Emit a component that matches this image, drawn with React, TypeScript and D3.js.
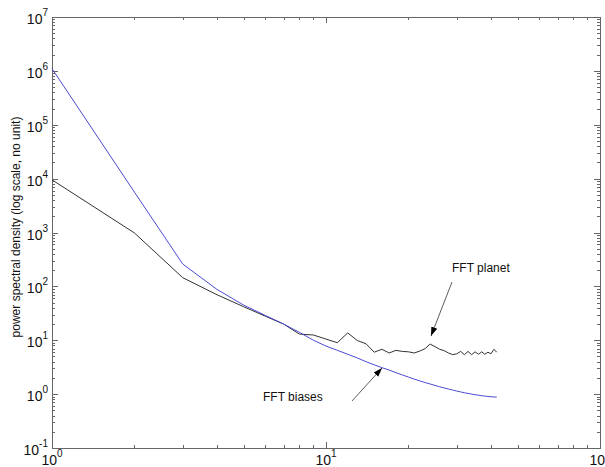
import React from "react";
import * as d3 from "d3";

const freq: number[] = Array.from({ length: 42 }, (_, i) => i + 1);
const biases: number[] = [
  1.1e6, 5600, 260, 88, 45, 29, 20, 14, 10, 7.8,
  6.5, 5.5, 4.7, 4.0, 3.5, 3.1, 2.8, 2.5, 2.27, 2.07,
  1.9, 1.76, 1.64, 1.54, 1.45, 1.37, 1.3, 1.24, 1.19, 1.14,
  1.1, 1.06, 1.03, 1.0, 0.975, 0.955, 0.935, 0.92, 0.905, 0.895, 0.885, 0.88,
];
const planet: number[] = [
  9500, 980, 145, 70, 42, 28, 20, 13, 12.5, 10.5,
  9.0, 13.7, 9.9, 8.6, 6.0, 6.8, 5.8, 6.5, 6.2, 6.1,
  5.8, 6.3, 7.0, 8.5, 7.6, 6.8, 6.4, 5.8, 5.4, 5.6,
  6.2, 5.4, 6.2, 5.4, 6.1, 5.5, 6.1, 5.5, 6.0, 5.6, 6.8, 6.0,
];
const xTickExp: number[] = [0, 1, 2];
const yTickExp: number[] = [-1, 0, 1, 2, 3, 4, 5, 6, 7];
const yLabel = "power spectral density (log scale, no unit)";
const planetLabel = "FFT planet";
const biasesLabel = "FFT biases";

const W = 605, H = 467;
const L = 52, R = 600, T = 17, B = 448;

export default function App() {
  const x = d3.scaleLog().domain([1, 100]).range([L, R]);
  const y = d3.scaleLog().domain([0.1, 1e7]).range([B, T]);
  const line = d3.line<number>().x((_, i) => x(freq[i])).y((d) => y(d));

  const xMinor: number[] = [];
  for (let e = 0; e < 2; e++) for (let m = 2; m <= 9; m++) xMinor.push(m * Math.pow(10, e));
  const yMinor: number[] = [];
  for (let e = -1; e < 7; e++) for (let m = 2; m <= 9; m++) yMinor.push(m * Math.pow(10, e));

  const axisColor = "#666";
  const font = "'Liberation Sans', Arial, sans-serif";

  return (
    <svg width={W} height={H} style={{ position: "absolute", left: 0, top: 0 }} fontFamily={font}>
      <defs>
        <marker id="ah" viewBox="0 0 10 10" refX="10" refY="5" markerWidth="9" markerHeight="9" orient="auto" markerUnits="userSpaceOnUse">
          <path d="M0,1.5 L10,5 L0,8.5 Z" fill="#000" />
        </marker>
      </defs>
      <rect x={0} y={0} width={W} height={H} fill="#fff" />
      {xMinor.map((v) => (
        <g key={"xm" + v} stroke={axisColor} strokeWidth={1}>
          <line x1={Math.round(x(v)) + 0.5} x2={Math.round(x(v)) + 0.5} y1={B} y2={B - 3} />
          <line x1={Math.round(x(v)) + 0.5} x2={Math.round(x(v)) + 0.5} y1={T} y2={T + 3} />
        </g>
      ))}
      {yMinor.map((v) => (
        <g key={"ym" + v} stroke={axisColor} strokeWidth={1}>
          <line x1={L} x2={L + 3} y1={Math.round(y(v)) + 0.5} y2={Math.round(y(v)) + 0.5} />
          <line x1={R} x2={R - 3} y1={Math.round(y(v)) + 0.5} y2={Math.round(y(v)) + 0.5} />
        </g>
      ))}
      {xTickExp.map((e) => {
        const px = Math.round(x(Math.pow(10, e))) + 0.5;
        return (
          <g key={"xt" + e} stroke={axisColor} strokeWidth={1}>
            <line x1={px} x2={px} y1={B} y2={B - 6} />
            <line x1={px} x2={px} y1={T} y2={T + 6} />
          </g>
        );
      })}
      {yTickExp.map((e) => {
        const py = Math.round(y(Math.pow(10, e))) + 0.5;
        return (
          <g key={"yt" + e} stroke={axisColor} strokeWidth={1}>
            <line x1={L} x2={L + 6} y1={py} y2={py} />
            <line x1={R} x2={R - 6} y1={py} y2={py} />
          </g>
        );
      })}
      <rect x={L + 0.5} y={T + 0.5} width={R - L} height={B - T} fill="none" stroke={axisColor} strokeWidth={1} />
      {yTickExp.map((e) => (
        <text key={"yl" + e} x={L - 4} y={y(Math.pow(10, e)) + 7} textAnchor="end" fontSize={14} fill="#111">
          10<tspan fontSize={10} dy={-8}>{e}</tspan>
        </text>
      ))}
      {xTickExp.map((e) => (
        <text key={"xl" + e} x={x(Math.pow(10, e))} y={B + 17} textAnchor="middle" fontSize={14} fill="#111">
          10<tspan fontSize={10} dy={-8}>{e}</tspan>
        </text>
      ))}
      <text transform={`translate(20,227) rotate(-90)`} textAnchor="middle" fontSize={12} fill="#111">
        {yLabel}
      </text>
      <path d={line(planet) || ""} fill="none" stroke="#333" strokeWidth={1} />
      <path d={line(biases) || ""} fill="none" stroke="#4b4bd2" strokeWidth={1} />
      <text x={452} y={272} fontSize={12} fill="#111">{planetLabel}</text>
      <line x1={452} y1={282} x2={431} y2={336} stroke="#333" strokeWidth={0.8} markerEnd="url(#ah)" />
      <text x={263} y={401} fontSize={12} fill="#111">{biasesLabel}</text>
      <line x1={352} y1={401} x2={382} y2={368} stroke="#333" strokeWidth={0.8} markerEnd="url(#ah)" />
    </svg>
  );
}
